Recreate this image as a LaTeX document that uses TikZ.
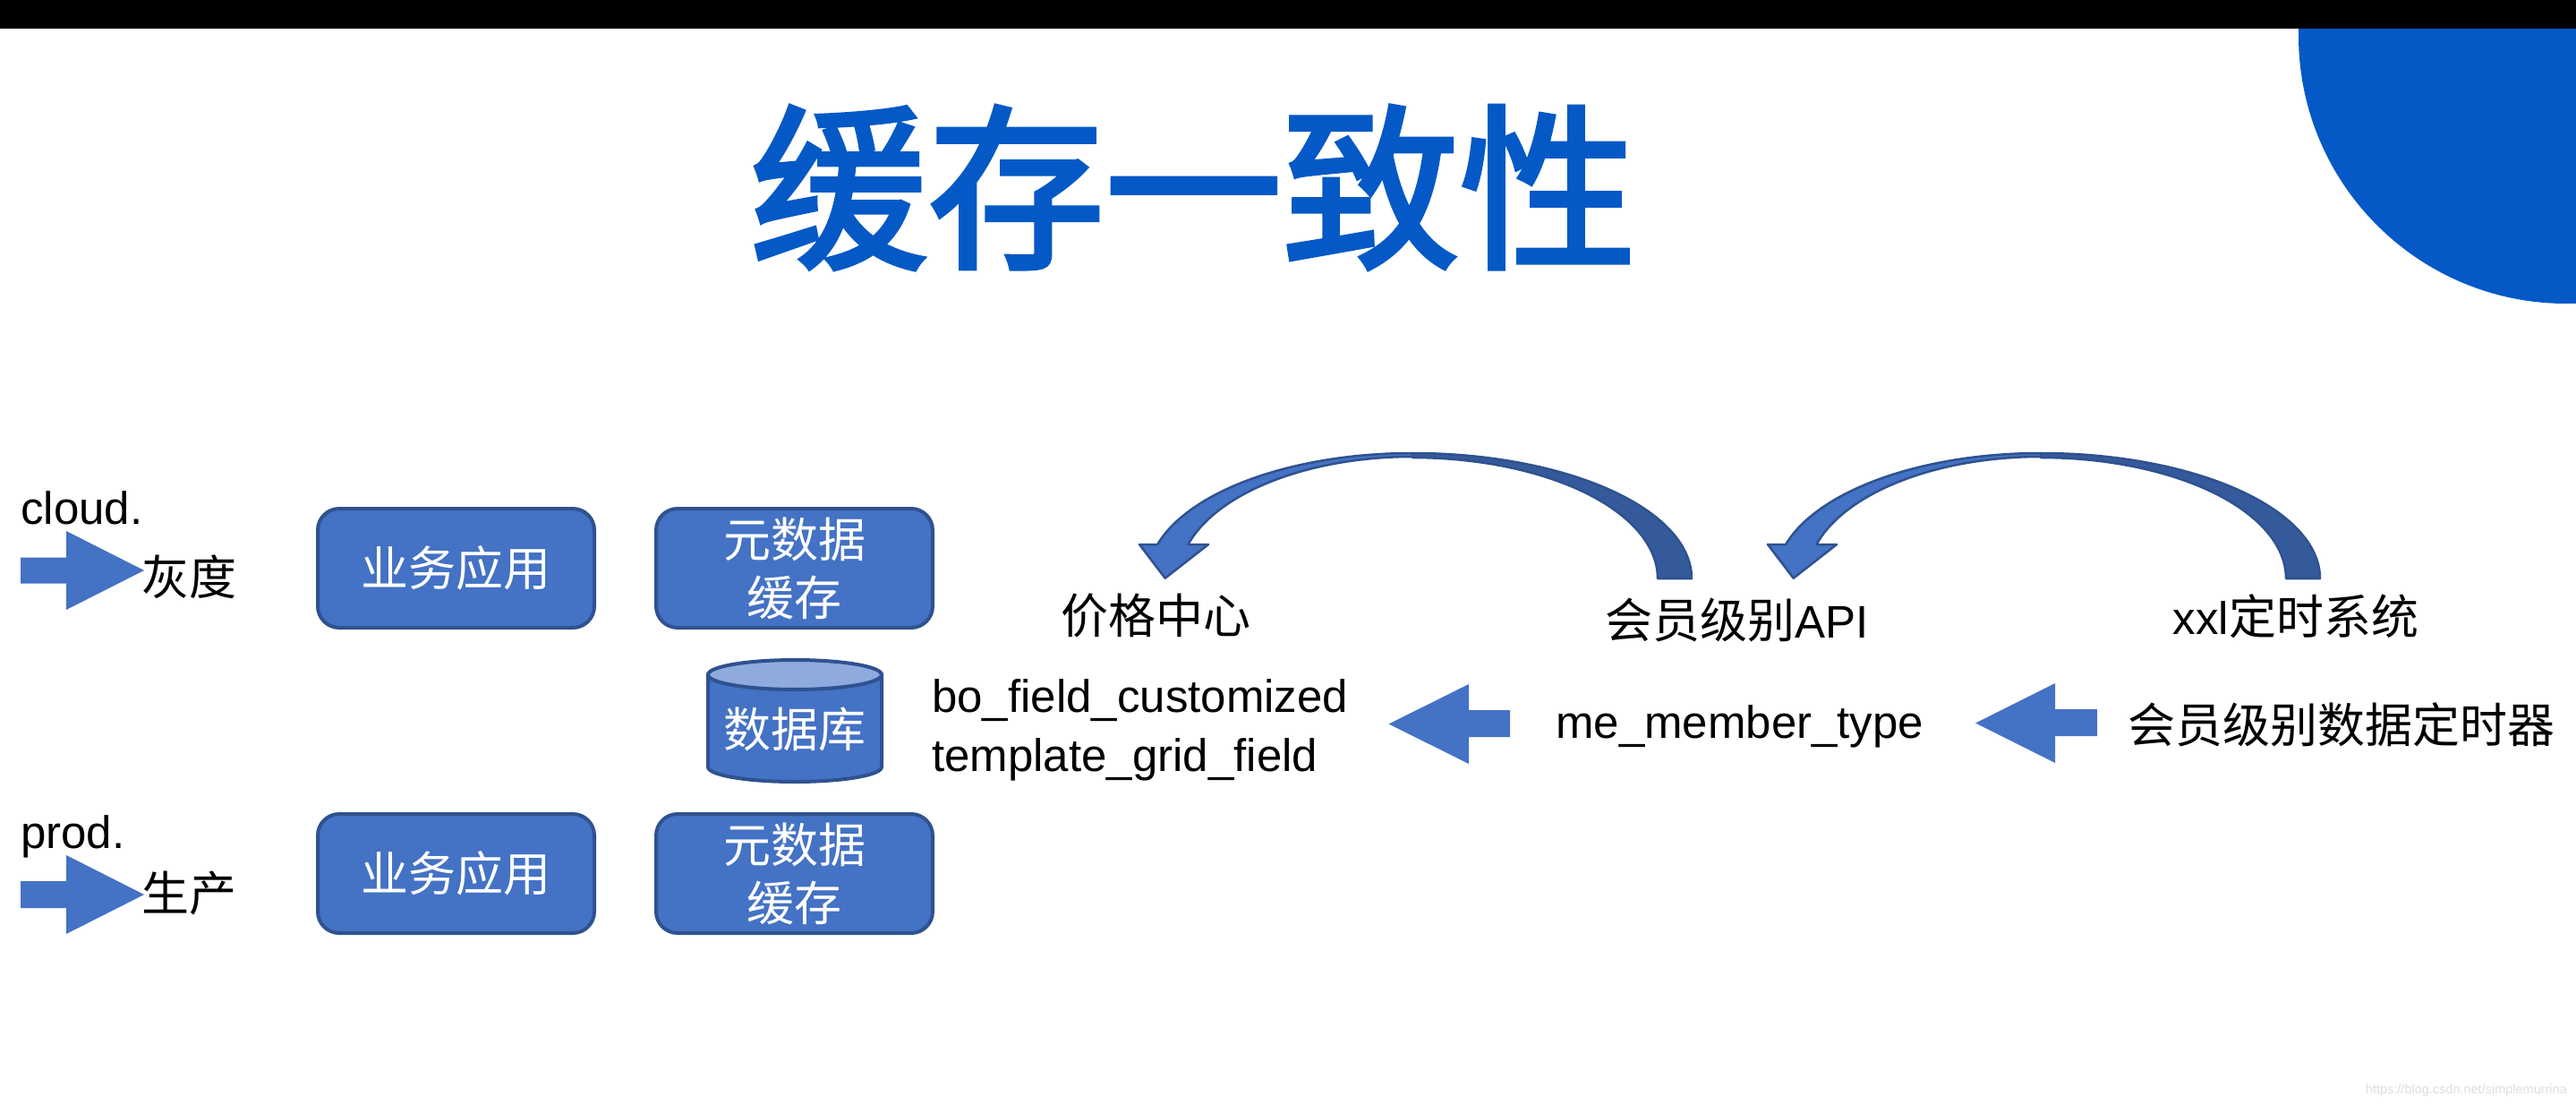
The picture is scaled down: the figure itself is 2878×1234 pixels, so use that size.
\documentclass[tikz,border=0pt]{standalone}
\usepackage{fontspec}
\setmainfont{Liberation Sans}
\newfontfamily\cjk{Noto Sans CJK SC}
\newfontfamily\cjktitle{Noto Sans CJK SC}[FakeBold=2.5]
\newcommand\zhtxt[1]{{\cjk\fontsize{53}{65}\selectfont #1}}
\definecolor{titleblue}{RGB}{4,89,198}
\definecolor{boxfill}{RGB}{68,114,196}
\definecolor{boxline}{RGB}{47,82,143}
\definecolor{dbtop}{RGB}{143,170,220}
\definecolor{arrdark}{RGB}{53,90,155}
\definecolor{wm}{RGB}{222,222,222}
\begin{document}
\begin{tikzpicture}[x=1pt,y=-1pt,
  appbox/.style={draw=boxline, line width=4pt, fill=boxfill, rounded corners=24pt,
    minimum width=309pt, minimum height=133pt, inner sep=0pt, text=white,
    font=\cjk\fontsize{53}{65}\selectfont, align=center},
  lbl/.style={inner sep=0pt, font=\fontsize{51}{65}\selectfont},
  cjklbl/.style={inner sep=0pt, font=\cjk\fontsize{53}{65}\selectfont},
  blockarrow/.style={fill=boxfill},
  curvelight/.style={fill=boxfill, draw=boxline, line width=2.5pt, line join=round},
  curvedark/.style={fill=arrdark, draw=boxline, line width=2.5pt, line join=round}]
\useasboundingbox (0,0) rectangle (2878,1234);
\fill[white] (0,0) rectangle (2878,1234);
% decorative circle and top bar
\fill[titleblue] (2867,40) circle[radius=299pt];
\fill[black] (0,0) rectangle (2878,32);
% title
\node[inner sep=0pt, text=titleblue, font=\cjktitle\fontsize{198}{200}\selectfont] (title) at (1333.5,209.5) {缓存一致性};
% left labels and arrows
\node[lbl, anchor=base west] (cloud) at (23,585) {cloud.};
\fill[blockarrow] (23,622.5) -- (74,622.5) -- (74,593) -- (161,637) -- (74,681) -- (74,651.5) -- (23,651.5) -- cycle;
\node[cjklbl] (gray) at (211,644) {灰度};
\node[lbl, anchor=base west] (prod) at (23,947) {prod.};
\fill[blockarrow] (23,984) -- (74,984) -- (74,955) -- (161,999) -- (74,1043) -- (74,1014) -- (23,1014) -- cycle;
\node[cjklbl] (prodzh) at (211,998) {生产};
% boxes
\node[appbox] (app1) at (509.5,634.5) {业务应用};
\node[appbox] (meta1) at (887.5,634.5) {元数据\\缓存};
\node[appbox] (app2) at (509.5,975.5) {业务应用};
\node[appbox] (meta2) at (887.5,975.5) {元数据\\缓存};
% database
\path[fill=boxfill, draw=boxline, line width=4pt] (791,753.5) -- (791,856.5)
  .. controls (791,865.6) and (834.4,873) .. (888,873)
  .. controls (941.6,873) and (985,865.6) .. (985,856.5) -- (985,753.5) -- cycle;
\path[fill=dbtop, draw=boxline, line width=4pt] (888,753.5) ellipse[x radius=97pt, y radius=16.5pt];
\node[cjklbl, text=white] (db) at (888,814.5) {数据库};
% tables
\node[lbl, anchor=base west] (bo) at (1041,795) {bo\_field\_customized};
\node[lbl, anchor=base west] (tpl) at (1041,861) {template\_grid\_field};
% right side labels
\node[cjklbl] (price) at (1291,688) {价格中心};
\node[lbl] (api) at (1941,692) {\zhtxt{会员级别}API};
\node[lbl] (xxl) at (2565,688) {xxl\zhtxt{定时系统}};
\node[lbl, anchor=base west] (metype) at (1738,824) {me\_member\_type};
\node[cjklbl] (timer) at (2616,809) {会员级别数据定时器};
% middle block arrows
\fill[blockarrow] (1687,793) -- (1641,793) -- (1641,764) -- (1551.5,808.5) -- (1641,853) -- (1641,823) -- (1687,823) -- cycle;
\fill[blockarrow] (2343,792) -- (2296,792) -- (2296,763) -- (2207,807.5) -- (2296,852) -- (2296,822) -- (2343,822) -- cycle;
% curved arrows
\foreach \dx in {0,702} {
  \begin{scope}[xshift=\dx pt]
    \filldraw[curvedark] plot[domain=0:-90, samples=60] ({1578+312*cos(\x)},{646+140*sin(\x)})
      -- plot[domain=-90:0, samples=60] ({1578+274*cos(\x)},{646+135*sin(\x)}) -- cycle;
    \filldraw[curvelight] plot[domain=-90:-164.25, samples=60] ({1578+296*cos(\x)},{646+140*sin(\x)})
      -- (1273,608) -- (1301.7,645.7) -- (1350,608) -- (1327.4,608)
      -- plot[domain=-163.8:-90, samples=60] ({1578+261*cos(\x)},{646+136*sin(\x)}) -- cycle;
  \end{scope}
}
% watermark
\node[anchor=base east, inner sep=0pt, text=wm, font=\fontsize{14.5}{17}\selectfont] (wmk) at (2868,1221) {https://blog.csdn.net/simplemurrina};
\end{tikzpicture}
\end{document}
